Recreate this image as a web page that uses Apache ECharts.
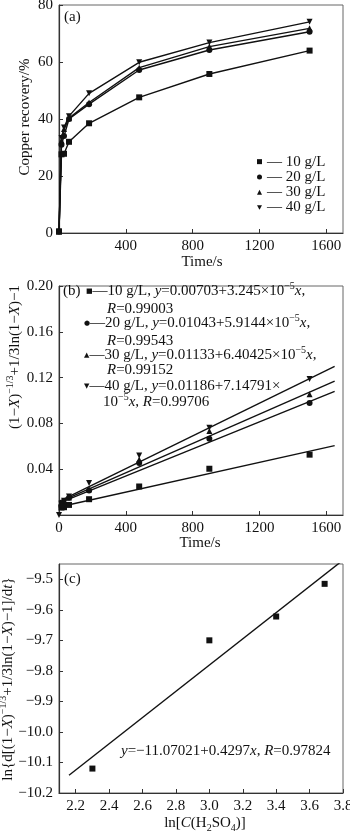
<!DOCTYPE html>
<html>
<head>
<meta charset="utf-8">
<script src="https://cdn.jsdelivr.net/npm/echarts@6/dist/echarts.min.js"></script>
<style>
  html, body { margin: 0; padding: 0; background: #fff; }
  #chart { width: 350px; height: 831px; }
</style>
</head>
<body>
<div id="chart"></div>
<script>
// ---- (a) copper recovery vs leaching time ----
const concLabels = ['10 g/L', '20 g/L', '30 g/L', '40 g/L'];
const timeA = [0, 15, 30, 60, 180, 480, 900, 1500];
const rec10 = [0.5, 27.6, 27.8, 32.0, 38.5, 47.6, 55.8, 64.0];
const rec20 = [0.5, 31.0, 34.0, 40.0, 45.2, 57.2, 64.2, 70.6];
const rec30 = [0.5, 32.5, 36.5, 40.3, 45.8, 58.0, 65.4, 71.8];
const rec40 = [0.5, 33.3, 37.0, 41.0, 49.0, 59.9, 66.8, 74.1];

// ---- (b) kinetic function vs time, with linear fits ----
const timeB = [0, 15, 30, 60, 180, 480, 900, 1500];
const kin10 = [null, 0.0065, 0.0068, 0.0088, 0.0138, 0.0249, 0.0404, 0.0527];
const kin20 = [null, 0.0082, 0.0100, 0.0150, 0.0215, 0.0454, 0.0665, 0.0978];
const kin30 = [null, 0.0092, 0.0118, 0.0152, 0.0225, 0.0484, 0.0733, 0.1055];
const kin40 = [0.0, 0.0098, 0.0125, 0.0162, 0.0279, 0.0519, 0.0762, 0.1187];
const fitIntercept = ['0.00703', '0.01043', '0.01133', '0.01186'];
const fitSlope = ['3.245', '5.9144', '6.40425', '7.14791'];   // ×10^-5
const fitR = ['0.99003', '0.99543', '0.99152', '0.99706'];
const fitRange = [0, 1650];

// ---- (c) reaction order plot ----
const lnConc = [2.30, 3.00, 3.40, 3.69];
const lnRate = [-10.12, -9.70, -9.622, -9.515];
const orderIntercept = '-11.07021';
const orderSlope = '0.4297';
const orderR = '0.97824';
const orderRange = [2.16, 3.8];

// tick values
const ticksTime = [0, 400, 800, 1200, 1600];
const ticksRec = [0, 20, 40, 60, 80];
const ticksKin = [0, 0.04, 0.08, 0.12, 0.16, 0.20];
const ticksLnC = [2.2, 2.4, 2.6, 2.8, 3.0, 3.2, 3.4, 3.6, 3.8];
const ticksLnR = [-10.2, -10.1, -10.0, -9.9, -9.8, -9.7, -9.6, -9.5];

const FONT = '"Liberation Serif", "Times New Roman", serif';
const INK = '#111';
const symbols = ['rect', 'circle', 'triangle', 'triangle'];
const rotations = [0, 0, 0, 180];
const glyphs = ['■', '●', '▲', '▼'];
const minus = s => String(s).replace(/-/g, '−');

function zip(xs, ys) {
  const out = [];
  xs.forEach((x, i) => { if (ys[i] !== null) out.push([x, ys[i]]); });
  return out;
}

function axis(extra) {
  const base = {
    type: 'value',
    axisLine: { show: true, lineStyle: { color: '#333', width: 1.2 } },
    axisTick: { show: true, inside: true, length: 4, lineStyle: { color: '#333', width: 1 } },
    splitLine: { show: false },
    axisLabel: { fontFamily: FONT, fontSize: 15, color: INK, margin: 6, formatter: v => String(v) }
  };
  const merged = Object.assign({}, base, extra);
  merged.axisLabel = Object.assign({}, base.axisLabel, extra.axisLabel || {});
  merged.axisTick = Object.assign({}, base.axisTick, extra.axisTick || {});
  return merged;
}

const gridBase = { left: 59, width: 284, show: true, borderColor: '#666', borderWidth: 1, containLabel: false, outerBoundsMode: 'none' };

const series = [];
// (a) lines with markers
[rec10, rec20, rec30, rec40].forEach((vals, i) => {
  series.push({
    name: concLabels[i], type: 'line', xAxisIndex: 0, yAxisIndex: 0,
    data: zip(timeA, vals),
    symbol: symbols[i], symbolRotate: rotations[i], symbolSize: 6,
    showAllSymbol: true,
    lineStyle: { color: INK, width: 1.4 }, itemStyle: { color: INK, opacity: 1 },
    z: 3 + i, silent: true
  });
});
// (b) points and fitted lines
[kin10, kin20, kin30, kin40].forEach((vals, i) => {
  series.push({
    name: 'kin' + i, type: 'scatter', xAxisIndex: 1, yAxisIndex: 1,
    data: zip(timeB, vals),
    symbol: symbols[i], symbolRotate: rotations[i], symbolSize: 6,
    itemStyle: { color: INK, opacity: 1 }, z: 4 + i, silent: true
  });
  const a = parseFloat(fitIntercept[i]);
  const b = parseFloat(fitSlope[i]) * 1e-5;
  series.push({
    name: 'fit' + i, type: 'line', xAxisIndex: 1, yAxisIndex: 1,
    data: fitRange.map(x => [x, a + b * x]),
    symbol: 'none', lineStyle: { color: INK, width: 1.4 }, z: 3, silent: true
  });
});
// (c) points and fitted line
{
  const a = parseFloat(orderIntercept);
  const b = parseFloat(orderSlope);
  series.push({
    name: 'order', type: 'scatter', xAxisIndex: 2, yAxisIndex: 2,
    data: zip(lnConc, lnRate), symbol: 'rect', symbolSize: 6,
    itemStyle: { color: INK, opacity: 1 }, z: 5, silent: true
  });
  series.push({
    name: 'orderFit', type: 'line', xAxisIndex: 2, yAxisIndex: 2,
    data: orderRange.map(x => [x, a + b * x]), clip: true,
    symbol: 'none', lineStyle: { color: INK, width: 1.4 }, z: 3, silent: true
  });
}

const rich = {
  i: { fontFamily: FONT, fontSize: 15, fontStyle: 'italic', color: INK },
  sup: { fontFamily: FONT, fontSize: 10, lineHeight: 6, padding: [0, 0, 10, 0], color: INK },
  sub: { fontFamily: FONT, fontSize: 10, lineHeight: 6, padding: [10, 0, 0, 0], color: INK },
  m: { fontFamily: '"DejaVu Sans", sans-serif', fontSize: 7, color: INK }
};

function label(x, y, text, opts) {
  opts = opts || {};
  return {
    type: 'text', x: x, y: y, rotation: opts.rotate ? Math.PI / 2 : 0, silent: true,
    style: {
      text: text, rich: rich, font: (opts.size || 15) + 'px ' + FONT, fill: INK,
      textAlign: opts.align || 'left', textVerticalAlign: 'middle'
    }
  };
}

const graphics = [
  label(64, 17, '(a)'),
  label(25, 117, 'Copper recovery/%', { rotate: true, align: 'center' }),
  label(202, 262, 'Time/s', { align: 'center' }),
  label(15, 357, '(1−{i|X}){sup|−1/3}+1/3ln(1−{i|X})−1', { rotate: true, align: 'center' }),
  label(200, 543, 'Time/s', { align: 'center' }),
  label(64, 579, '(c)'),
  label(8, 679, 'ln{d[(1−{i|X}){sup|−1/3}+1/3ln(1−{i|X})−1]/d{i|t}}', { rotate: true, align: 'center' }),
  label(205, 823, 'ln[{i|C}(H{sub|2}SO{sub|4})]', { align: 'center' }),
  label(121, 751, '{i|y}=' + minus(orderIntercept) + '+' + orderSlope + '{i|x}, {i|R}=' + orderR)
];

// (b) fit equations
const eqRows = [[291, 309], [323, 341], [355, 370], [386, 402]];
concLabels.forEach((c, i) => {
  const head = '{m|' + glyphs[i] + '}—' + c + ', {i|y}=' + fitIntercept[i] + '+' + fitSlope[i] + '×';
  if (i < 3) {
    graphics.push(label(i === 0 ? 86 : 84, eqRows[i][0], head + '10{sup|−5}{i|x},'));
    graphics.push(label(107, eqRows[i][1], '{i|R}=' + fitR[i]));
  } else {
    graphics.push(label(84, eqRows[i][0], head));
    graphics.push(label(103, eqRows[i][1], '10{sup|−5}{i|x}, {i|R}=' + fitR[i]));
  }
});
graphics.push(label(63, 291, '(b)'));

const option = {
  animation: false,
  backgroundColor: '#fff',
  grid: [
    Object.assign({ top: 5, height: 228 }, gridBase),
    Object.assign({ top: 286, height: 229 }, gridBase),
    Object.assign({ top: 564, height: 229 }, gridBase)
  ],
  xAxis: [
    axis({ gridIndex: 0, min: 0, max: 1700, interval: 400,
      axisLabel: { customValues: ticksTime.slice(1) }, axisTick: { customValues: ticksTime } }),
    axis({ gridIndex: 1, min: 0, max: 1700, interval: 400,
      axisLabel: { customValues: ticksTime }, axisTick: { customValues: ticksTime } }),
    axis({ gridIndex: 2, min: 2.1, max: 3.8,
      axisLabel: { customValues: ticksLnC, formatter: v => v.toFixed(1) }, axisTick: { customValues: ticksLnC } })
  ],
  yAxis: [
    axis({ gridIndex: 0, min: 0, max: 80, interval: 20,
      axisLabel: { customValues: ticksRec }, axisTick: { customValues: ticksRec } }),
    axis({ gridIndex: 1, min: 0, max: 0.2, interval: 0.04,
      axisLabel: { customValues: ticksKin.slice(1), formatter: v => v.toFixed(2) }, axisTick: { customValues: ticksKin } }),
    axis({ gridIndex: 2, min: -10.2, max: -9.45,
      axisLabel: { customValues: ticksLnR, formatter: v => minus(v.toFixed(1)) }, axisTick: { customValues: ticksLnR } })
  ],
  legend: {
    orient: 'vertical', left: 252, top: 149, itemWidth: 5, itemHeight: 5, itemGap: 0,
    selectedMode: false,
    textStyle: { fontFamily: FONT, fontSize: 15, color: INK, lineHeight: 15.3 },
    formatter: n => '— ' + n,
    data: [
      { name: concLabels[0], icon: 'rect' },
      { name: concLabels[1], icon: 'circle' },
      { name: concLabels[2], icon: 'triangle' },
      { name: concLabels[3], icon: 'path://M0,0L10,0L5,9Z' }
    ]
  },
  graphic: graphics,
  series: series
};

const chart = echarts.init(document.getElementById('chart'), null, { renderer: 'canvas' });
chart.setOption(option);
</script>
</body>
</html>
